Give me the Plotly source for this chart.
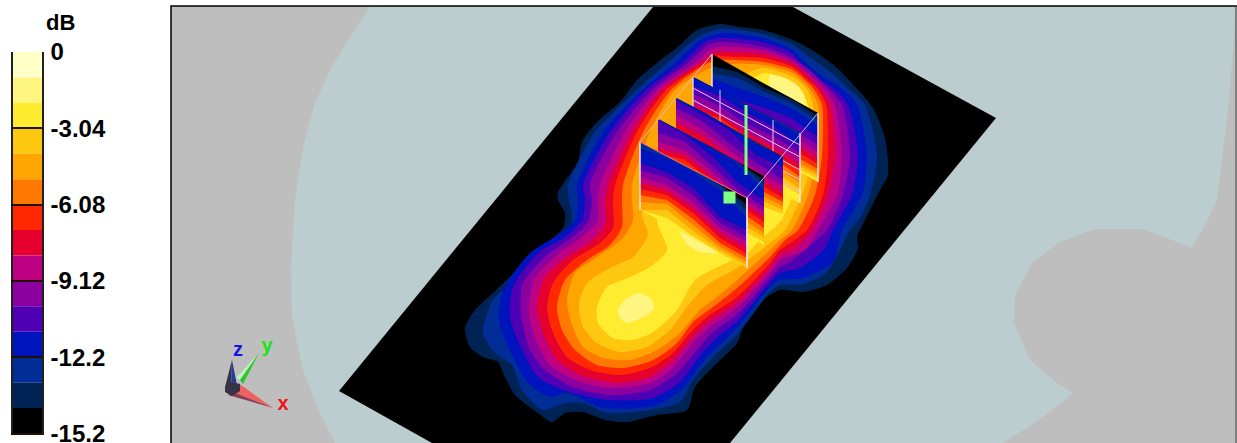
import plotly.graph_objects as go

# ---- colour bar data ----
BAR_TOP_DB = 0.0
BAR_BOTTOM_DB = -15.2
BAR_AXIS_END_DB = -15.25
BAND_COLORS = ["#FFFFC8", "#FFF580", "#FFEB30", "#FFC810", "#FFA500", "#FF7800", "#FF2800",
               "#E6002D", "#BE0082", "#8C00A0", "#5000B4", "#0014BE", "#002D96", "#002355", "#000000"]
TICK_VALUES = [0, -3.04, -6.08, -9.12, -12.16, -15.2]
TICK_LABELS = ["0", "-3.04", "-6.08", "-9.12", "-12.2", "-15.2"]

# ---- scene outlines ----
PANEL = [(171, 6), (1237, 6), (1237, 443), (171, 443)]
AIR_REGION = [(370, 7), (350, 37), (330, 70), (315, 103), (303, 147), (295, 200), (291, 267), (292, 317),
              (302, 367), (317, 407), (335, 443), (1003, 443), (1043, 417), (1073, 393), (1057, 383), (1030, 360),
              (1014, 322), (1015, 295), (1032, 263), (1060, 242), (1087, 232), (1097, 229), (1142, 229), (1167, 238),
              (1192, 248), (1205, 225), (1217, 200), (1228, 110), (1233, 50), (1235, 7)]
GROUND = [(653, 7), (793, 7), (996, 118), (730, 443), (432, 443), (339, 391)]

OUTLINE_13 = [(720, 24), (740, 27), (763, 30), (793, 40), (820, 55), (837, 68), (860, 92), (873, 108), (885, 138), (888, 175),
              (880, 190), (865, 220), (857, 237), (858, 248), (847, 268), (827, 285), (803, 292), (780, 290), (767, 297),
              (747, 317), (737, 343), (717, 363), (695, 387), (687, 410), (657, 415), (627, 422), (605, 420), (583, 412),
              (565, 413), (552, 422), (538, 413), (515, 395), (505, 377), (498, 362), (483, 357), (470, 347), (465, 328),
              (475, 310), (493, 293), (522, 265), (547, 243), (563, 228), (565, 213), (558, 200), (558, 192), (578, 162),
              (582, 142), (597, 122), (620, 102), (637, 80), (657, 63), (680, 45), (697, 30)]
OUTLINE_12 = [(720, 29), (763, 34), (793, 45), (814, 60), (832, 73), (848, 88), (865, 105), (877, 155), (870, 195), (860, 218),
              (850, 230), (840, 250), (826, 273), (803, 284), (780, 285), (770, 292), (737, 335), (713, 357), (693, 380),
              (680, 402), (650, 410), (607, 413), (583, 403), (565, 403), (543, 410), (522, 390), (512, 365), (495, 353),
              (483, 333), (493, 300), (533, 267), (558, 240), (570, 228), (572, 213), (569, 200), (568, 185), (595, 132),
              (637, 90), (667, 63), (700, 36)]
OUTLINE_11 = [(720, 33), (763, 38), (793, 50), (808, 65), (825, 78), (841, 88), (857, 105), (867, 155), (862, 195), (842, 230),
              (833, 262), (803, 278), (780, 280), (770, 287), (737, 328), (707, 357), (683, 388), (657, 405), (603, 408),
              (567, 393), (550, 397), (528, 383), (513, 357), (499, 322), (503, 290), (530, 253), (558, 235), (575, 220),
              (578, 200), (577, 185), (603, 132), (642, 90), (675, 63), (700, 40)]
OUTLINE_10 = [(720, 38), (763, 42), (793, 54), (803, 70), (820, 80), (833, 88), (848, 105), (858, 155), (852, 195), (833, 230),
              (825, 248), (800, 268), (780, 273), (770, 283), (737, 322), (720, 335), (703, 352), (680, 382), (653, 398),
              (607, 400), (563, 390), (538, 377), (522, 350), (510, 317), (513, 287), (538, 253), (565, 237), (582, 220),
              (585, 200), (583, 185), (610, 132), (646, 90), (682, 63), (705, 42)]
OUTLINE_9 = [(720, 42), (763, 47), (793, 58), (812, 72), (828, 88), (842, 105), (850, 155), (843, 195), (827, 230), (813, 243),
             (790, 262), (780, 267), (770, 278), (737, 315), (713, 332), (697, 350), (677, 373), (650, 390), (610, 395),
             (573, 387), (545, 370), (530, 350), (521, 313), (523, 283), (547, 255), (573, 237), (588, 222), (592, 200),
             (590, 185), (617, 132), (652, 90), (688, 63), (708, 45)]
OUTLINE_8 = [(720, 47), (763, 50), (793, 61), (810, 75), (824, 88), (835, 105), (842, 155), (837, 195), (818, 230), (805, 250),
             (780, 260), (770, 273), (737, 308), (710, 327), (693, 343), (673, 368), (650, 383), (613, 388), (580, 382),
             (550, 365), (537, 343), (529, 312), (535, 278), (557, 255), (582, 237), (597, 222), (598, 200), (600, 185),
             (625, 132), (657, 90), (695, 63), (710, 50)]
OUTLINE_7 = [(720, 52), (763, 54), (793, 64), (808, 76), (819, 88), (830, 105), (835, 155), (828, 195), (812, 230), (795, 248),
             (780, 255), (770, 268), (737, 303), (707, 323), (690, 340), (673, 360), (650, 377), (617, 383), (580, 375),
             (557, 360), (543, 333), (537, 307), (545, 277), (567, 257), (590, 242), (605, 225), (605, 200), (608, 185),
             (632, 132), (662, 90), (700, 63), (715, 53)]
OUTLINE_6 = [(720, 56), (763, 58), (793, 67), (806, 78), (817, 88), (826, 105), (828, 155), (823, 195), (807, 230), (790, 243),
             (780, 250), (770, 263), (737, 297), (707, 317), (690, 333), (673, 353), (650, 368), (620, 375), (590, 370),
             (567, 357), (553, 333), (547, 308), (553, 283), (573, 260), (600, 243), (613, 228), (613, 200), (615, 185),
             (637, 132), (666, 90), (705, 63), (718, 55)]
OUTLINE_5 = [(720, 60), (763, 62), (793, 70), (805, 80), (813, 88), (822, 105), (822, 155), (815, 195), (798, 230), (785, 240),
             (770, 257), (737, 288), (713, 307), (693, 322), (677, 343), (653, 360), (623, 368), (597, 365), (575, 350),
             (562, 330), (557, 307), (565, 280), (587, 260), (610, 245), (622, 227), (622, 200), (623, 185), (643, 132),
             (671, 90), (708, 63)]
OUTLINE_4 = [(730, 64), (763, 65), (793, 73), (803, 82), (809, 88), (818, 105), (817, 155), (808, 195), (792, 230), (780, 240),
             (770, 250), (737, 280), (717, 297), (700, 310), (680, 333), (657, 350), (630, 360), (603, 358), (583, 347),
             (572, 325), (567, 300), (575, 273), (597, 257), (623, 238), (633, 220), (632, 200), (632, 185), (650, 132),
             (675, 90), (710, 68)]
OUTLINE_3 = [(763, 68), (793, 77), (806, 88), (813, 105), (813, 155), (802, 195), (785, 230), (770, 243), (737, 268), (707, 285),
             (690, 303), (670, 330), (647, 347), (620, 352), (597, 343), (583, 327), (579, 303), (587, 283), (610, 268),
             (633, 257), (648, 235), (642, 213), (665, 190), (700, 130), (730, 100), (745, 75)]
OUTLINE_2 = [(763, 73), (785, 78), (793, 83), (800, 88), (808, 105), (808, 155), (793, 195), (780, 222), (762, 238), (745, 255),
             (733, 260), (695, 280), (677, 310), (653, 332), (633, 340), (613, 338), (598, 323), (597, 307), (607, 287),
             (623, 280), (650, 267), (667, 250), (657, 220), (670, 190), (710, 130), (745, 85)]
PALE_BACK = [(770, 75), (785, 78), (797, 85), (804, 95), (806, 110), (790, 110), (770, 90)]
PALE_MIDDLE = [(680, 232), (690, 235), (703, 243), (718, 253), (700, 252), (688, 245)]
PALE_FRONT = [(618, 310), (627, 298), (640, 293), (652, 300), (654, 308), (647, 315), (627, 323), (620, 318)]

# ---- the five vertical cuts: band edges (y) at five stations along each cut ----
W1_X = [640, 667, 693, 720, 747]
W1_TOP = [142, 156, 170, 184, 198]
W1_BOTTOM = [210, 224, 238, 253, 268]
W1_BANDS = {13: [142, 156, 170, 184, 205], 12: [143, 156, 170, 185, 211], 11: [148, 158, 172, 190, 218],
            10: [163, 172, 188, 217, 230], 9: [170, 178, 195, 223, 237], 8: [177, 185, 202, 228, 242],
            7: [183, 190, 208, 233, 248], 6: [189, 195, 213, 238, 254], 5: [195, 200, 219, 243, 258],
            4: [202, 204, 225, 247, 262], 3: [210, 210, 231, 250, 265], 2: [210, 218, 236, 253, 268]}
W2_X = [658, 685, 711, 738, 764]
W2_TOP = [119, 133, 147, 162, 176]
W2_BOTTOM = [188, 202, 216, 231, 245]
W2_BANDS = {13: [119, 133, 147, 162, 180], 12: [119, 133, 147, 162, 184], 11: [119, 133, 147, 164, 190],
            10: [120, 135, 155, 183, 200], 9: [133, 142, 165, 190, 207], 8: [142, 150, 171, 195, 212],
            7: [148, 155, 176, 199, 217], 6: [153, 160, 180, 204, 222], 5: [170, 170, 190, 210, 228],
            4: [180, 180, 200, 216, 233], 3: [188, 190, 208, 222, 237], 2: [188, 200, 216, 228, 242]}
W3_X = [676, 703, 729, 756, 783]
W3_TOP = [98, 112, 127, 142, 157]
W3_BOTTOM = [167, 181, 196, 211, 220]
W3_BANDS = {13: [98, 112, 127, 142, 157], 12: [98, 112, 127, 142, 157], 11: [98, 112, 127, 144, 157],
            10: [100, 115, 130, 155, 167], 9: [108, 122, 143, 163, 180], 8: [115, 130, 150, 170, 186],
            7: [122, 136, 156, 176, 193], 6: [128, 142, 162, 182, 198], 5: [140, 150, 170, 188, 202],
            4: [150, 160, 178, 193, 206], 3: [160, 170, 186, 198, 210], 2: [167, 178, 194, 204, 214]}
W4_X = [693, 720, 746, 773, 800]
W4_TOP = [77, 91, 105, 119, 133]
W4_BOTTOM = [146, 160, 174, 189, 203]
W4_BANDS = {13: [77, 91, 105, 119, 133], 12: [77, 91, 105, 119, 133], 11: [77, 91, 106, 120, 135],
            10: [86, 96, 112, 126, 146], 9: [94, 106, 124, 136, 153], 8: [100, 112, 130, 143, 159],
            7: [105, 115, 133, 147, 165], 6: [110, 118, 136, 152, 171], 5: [120, 128, 146, 158, 177],
            4: [130, 138, 154, 165, 183], 3: [138, 148, 162, 170, 189], 2: [146, 156, 170, 178, 195]}
W5_X = [712, 738, 765, 791, 818]
W5_TOP = [54, 69, 84, 98, 113]
W5_BOTTOM = [123, 138, 153, 167, 182]
W5_BANDS = {13: [66, 72, 88, 99, 116], 12: [73, 78, 92, 103, 120], 11: [78, 88, 97, 108, 125],
            10: [90, 100, 108, 118, 137], 9: [96, 108, 118, 128, 145], 8: [102, 114, 126, 135, 152],
            7: [108, 120, 132, 142, 158], 6: [112, 125, 138, 148, 164], 5: [116, 130, 143, 154, 169],
            4: [120, 134, 147, 159, 173], 3: [123, 136, 150, 162, 176], 2: [123, 138, 152, 165, 179]}

# grid drawn on the fourth cut
GRID_ROW_Y_LEFT = [88, 100, 112, 122, 135]
GRID_ROW_Y_RIGHT = [145, 157, 170, 180, 192]
GRID_COLUMN_X = [720, 773]
GRID_COLUMN_TOP = [90, 120]
GRID_COLUMN_BOTTOM = [160, 189]

FEED_X = [746, 746]
FEED_Y = [105, 175]
PORT_X = [729.5]
PORT_Y = [197.5]

AXIS_Z_DARK = [(232, 360), (225, 387), (231, 390)]
AXIS_Z_BLUE = [(232, 360), (231, 390), (238, 390)]
AXIS_Y_LIGHT = [(259, 353), (236, 378), (240, 380)]
AXIS_Y_DEEP = [(259, 353), (240, 380), (243, 384)]
AXIS_X_LIGHT = [(273, 408), (238, 383), (233, 392)]
AXIS_X_DEEP = [(273, 408), (233, 392), (228, 395)]
AXIS_HUB = [(225, 387), (231, 382), (240, 384), (240, 391), (232, 396), (225, 392)]
AXIS_LETTERS = ["z", "y", "x"]
AXIS_LETTER_X = [238, 267, 283]
AXIS_LETTER_Y = [351, 347, 405]
AXIS_LETTER_COLORS = ["#1414E6", "#14E614", "#F01414"]

fig = go.Figure()


def patch(points, color, smooth=False):
    line = dict(width=0, shape="spline", smoothing=0.7) if smooth else dict(width=0)
    fig.add_trace(go.Scatter(x=[p[0] for p in points] + [points[0][0]], y=[p[1] for p in points] + [points[0][1]],
                             mode="lines", fill="toself", fillcolor=color, line=line,
                             hoverinfo="skip", showlegend=False))


def stroke(xs, ys, color, width):
    fig.add_trace(go.Scatter(x=xs, y=ys, mode="lines", line=dict(color=color, width=width),
                             hoverinfo="skip", showlegend=False))


def cut(xs, top, bottom, bands):
    levels = sorted(bands, reverse=True)
    upper_rows = [top] + [bands[k] for k in levels]
    colors = [BAND_COLORS[14]] + [BAND_COLORS[k] for k in levels]
    for i, (upper, color) in enumerate(zip(upper_rows, colors)):
        if i + 1 < len(upper_rows):
            lower = [min(v + 1, b) for v, b in zip(upper_rows[i + 1], bottom)]
        else:
            lower = bottom
        patch(list(zip(xs, upper)) + list(zip(xs[::-1], lower[::-1])), color)


patch(PANEL, "#BEBEBE")
patch(AIR_REGION, "#BCCDD0")
patch(GROUND, BAND_COLORS[14])
for level, outline in [(13, OUTLINE_13), (12, OUTLINE_12), (11, OUTLINE_11), (10, OUTLINE_10), (9, OUTLINE_9),
                       (8, OUTLINE_8), (7, OUTLINE_7), (6, OUTLINE_6), (5, OUTLINE_5), (4, OUTLINE_4),
                       (3, OUTLINE_3), (2, OUTLINE_2)]:
    patch(outline, BAND_COLORS[level], smooth=True)
for outline in (PALE_BACK, PALE_MIDDLE, PALE_FRONT):
    patch(outline, BAND_COLORS[1], smooth=True)

LINE_PALE = "#F2E4E4"
LINE_LILAC = "#CDB4E6"
# back to front
cut(W5_X, W5_TOP, W5_BOTTOM, W5_BANDS)
stroke([W5_X[0]] * 2, [W5_TOP[0], W5_BOTTOM[0] - 27], LINE_PALE, 1.5)
stroke([W5_X[-1]] * 2, [W5_TOP[-1], W5_BOTTOM[-1]], LINE_PALE, 1.5)
cut(W4_X, W4_TOP, W4_BOTTOM, W4_BANDS)
stroke([W4_X[0]] * 2, [W4_TOP[0], W4_BOTTOM[0] - 38], LINE_PALE, 1.2)
stroke([W4_X[-1]] * 2, [W4_TOP[-1], W4_BOTTOM[-1]], LINE_PALE, 1.5)
for left, right in zip(GRID_ROW_Y_LEFT, GRID_ROW_Y_RIGHT):
    stroke([W4_X[0], W4_X[-1]], [left, right], "#E8C8E8", 1)
for gx, gt, gb in zip(GRID_COLUMN_X, GRID_COLUMN_TOP, GRID_COLUMN_BOTTOM):
    stroke([gx, gx], [gt, gb], "#E8C8E8", 1)
cut(W3_X, W3_TOP, W3_BOTTOM, W3_BANDS)
cut(W2_X, W2_TOP, W2_BOTTOM, W2_BANDS)
cut(W1_X, W1_TOP, W1_BOTTOM, W1_BANDS)
stroke([W1_X[0]] * 2, [W1_TOP[0], W1_BOTTOM[0]], LINE_PALE, 1.5)
stroke([W1_X[-1]] * 2, [W1_TOP[-1], W1_BOTTOM[-1]], LINE_PALE, 1.8)
stroke([W1_X[0], W1_X[-1]], [W1_TOP[0], W1_TOP[-1]], "#FF7090", 1)
stroke([W1_X[0], W5_X[0]], [W1_TOP[0], W5_TOP[0]], "#F0B4C8", 1)
stroke([W1_X[-1], W5_X[-1]], [W1_TOP[-1], W5_TOP[-1]], LINE_LILAC, 1)
stroke(FEED_X, FEED_Y, "#80FF80", 3)
fig.add_trace(go.Scatter(x=PORT_X, y=PORT_Y, mode="markers", hoverinfo="skip", showlegend=False,
                         marker=dict(symbol="square", size=12, color="#80FF80", line=dict(width=0))))

patch(AXIS_Z_DARK, "#34344A")
patch(AXIS_Z_BLUE, "#2A3A9C")
patch(AXIS_Y_LIGHT, "#C0F0C0")
patch(AXIS_Y_DEEP, "#28C828")
patch(AXIS_X_LIGHT, "#F06060")
patch(AXIS_X_DEEP, "#8C3C50")
patch(AXIS_HUB, "#343444")
fig.add_trace(go.Scatter(x=AXIS_LETTER_X, y=AXIS_LETTER_Y, mode="text", text=AXIS_LETTERS, hoverinfo="skip",
                         showlegend=False,
                         textfont=dict(family="Liberation Sans", size=20, weight="bold", color=AXIS_LETTER_COLORS)))

# panel frame
stroke([171, 171, 1237], [443, 6, 6], "#000000", 1.5)
stroke([1236, 1236], [6, 443], "#404040", 1)

# colour bar on its own axes; the last band runs slightly past the axis end, where it is clipped
step = (BAR_BOTTOM_DB - BAR_TOP_DB) / len(BAND_COLORS)
heights = [step] * (len(BAND_COLORS) - 1) + [step * 1.2]
fig.add_trace(go.Bar(x=[0.5] * len(BAND_COLORS), y=heights,
                     base=[BAR_TOP_DB + i * step for i in range(len(BAND_COLORS))], width=1,
                     marker=dict(color=BAND_COLORS, line=dict(width=0)), xaxis="x2", yaxis="y2",
                     hoverinfo="skip", showlegend=False))

W, H = 1237, 443
fig.update_layout(
    width=W, height=H, autosize=False, margin=dict(l=0, r=0, t=0, b=0),
    paper_bgcolor="#FFFFFF", plot_bgcolor="#FFFFFF", showlegend=False, barmode="overlay",
    xaxis=dict(range=[0, W], domain=[0, 1], visible=False, fixedrange=True, automargin=False),
    yaxis=dict(range=[H, 0], domain=[0, 1], visible=False, fixedrange=True, automargin=False),
    xaxis2=dict(range=[0, 1], domain=[13 / W, 42 / W], anchor="y2", showticklabels=False, ticks="",
                showgrid=False, zeroline=False, showline=False, automargin=False),
    yaxis2=dict(range=[BAR_AXIS_END_DB, BAR_TOP_DB], domain=[1 - 434.75 / H, 1 - 52 / H], anchor="x2",
                side="right", automargin=False, ticklabeloverflow="allow", ticklabelstandoff=2,
                tickmode="array", tickvals=TICK_VALUES, ticktext=TICK_LABELS, ticks="inside", ticklen=31, tickwidth=1.5,
                tickcolor="#201000", showgrid=False, zeroline=False, showline=True, linecolor="#202020", linewidth=1.5,
                mirror=True, layer="above traces",
                tickfont=dict(family="Liberation Sans", size=24, weight="bold", color="#000000")),
    annotations=[dict(text="dB", x=60, y=22, xref="x", yref="y", showarrow=False,
                      font=dict(family="Liberation Sans", size=22, weight="bold", color="#000000"))],
)
fig.write_html("out.html", post_script="document.body.style.margin='0';document.body.style.overflow='hidden';",
               config=dict(displayModeBar=False))
